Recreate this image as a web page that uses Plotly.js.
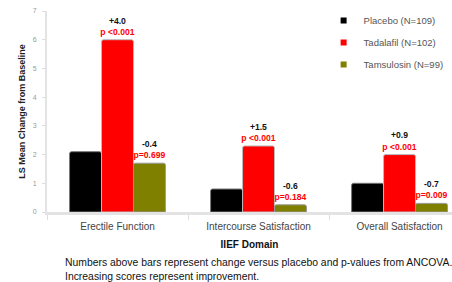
<!DOCTYPE html>
<html>
<head>
<meta charset="utf-8">
<script src="https://cdn.plot.ly/plotly-3.0.1.min.js"></script>
<style>
html,body{margin:0;padding:0;background:#fff;}
#chart{width:452px;height:282px;}
</style>
</head>
<body>
<div id="chart"></div>
<script>
// ---- data ----
const categories = ["Erectile Function", "Intercourse Satisfaction", "Overall Satisfaction"];
const seriesNames = ["Placebo (N=109)", "Tadalafil (N=102)", "Tamsulosin (N=99)"];
const placebo = [2.1, 0.8, 1.0];
const tadalafil = [6.0, 2.3, 2.0];
const tamsulosin = [1.7, 0.25, 0.3];
const tadalafilDiff = ["+4.0", "+1.5", "+0.9"];
const tadalafilP = ["p <0.001", "p <0.001", "p <0.001"];
const tamsulosinDiff = ["-0.4", "-0.6", "-0.7"];
const tamsulosinP = ["p=0.699", "p=0.184", "p=0.009"];
const yTicks = [0, 1, 2, 3, 4, 5, 6, 7];

const colors = ["#000000", "#ff0000", "#808000"];
const edgeColors = ["#777", "#bbb", "#999"];

function labels(diff, p) {
  return diff.map((d, i) => "<b>" + d + "</b><br><b><span style='color:#ff0000'>" + p[i] + "</span></b>");
}

const common = {
  type: "bar",
  x: categories,
  cliponaxis: false,
  constraintext: "none",
  textposition: "outside",
  outsidetextfont: {family: "Liberation Sans, Arial, sans-serif", size: 8.6, color: "#111"},
  hoverinfo: "skip",
  showlegend: false
};

const seriesValues = [placebo, tadalafil, tamsulosin];
const seriesText = [null, labels(tadalafilDiff, tadalafilP), labels(tamsulosinDiff, tamsulosinP)];

const traces = [];
seriesValues.forEach((vals, i) => {
  const t = Object.assign({}, common, {
    name: seriesNames[i], y: vals, legendgroup: "g" + i,
    marker: {color: colors[i], line: {color: edgeColors[i], width: 1}, cornerradius: 2}
  });
  if (seriesText[i]) { t.text = seriesText[i]; t.texttemplate = "%{text}"; }
  traces.push(t);
});
// legend entries with small square keys
seriesNames.forEach((n, i) => {
  traces.push({
    type: "scatter", mode: "markers", x: [null], y: [null],
    name: n, legendgroup: "g" + i, showlegend: true, hoverinfo: "skip",
    marker: {symbol: "square", size: 6, color: colors[i]}
  });
});

const layout = {
  width: 452, height: 282,
  margin: {l: 47, r: 0, t: 11, b: 70, pad: 0},
  paper_bgcolor: "#fff", plot_bgcolor: "#fff",
  font: {family: "Liberation Sans, Arial, sans-serif", color: "#333"},
  barmode: "group",
  bargap: 0.32,
  bargroupgap: 0,
  showlegend: true,
  legend: {
    x: 0.683, y: 1.025, xanchor: "left", yanchor: "top",
    bgcolor: "rgba(0,0,0,0)",
    font: {size: 9.5, color: "#555"},
    itemwidth: 30,
    tracegroupgap: 3
  },
  xaxis: {
    type: "category",
    range: [-0.5, 2.372],
    showline: true, linecolor: "#e3e3e3", linewidth: 3,
    ticks: "outside", tickson: "boundaries", ticklen: 5, tickcolor: "#ddd",
    ticklabelstandoff: 3,
    tickfont: {size: 10, color: "#444"},
    showgrid: false, zeroline: false,
    title: {text: "<b>IIEF Domain</b>", font: {size: 10, color: "#111"}, standoff: 10}
  },
  yaxis: {
    range: [0, 7],
    tickvals: yTicks,
    showline: true, linecolor: "#e3e3e3", linewidth: 2,
    ticks: "outside", ticklen: 3, tickcolor: "#ddd",
    ticklabelstandoff: 4,
    tickfont: {size: 7, color: "#999"},
    showgrid: false, zeroline: false,
    title: {text: "<b>LS Mean Change from Baseline</b>", font: {size: 9, color: "#222"}, standoff: 6}
  },
  annotations: [
    {
      xref: "paper", yref: "paper", x: 0.0395, y: -0.215,
      xanchor: "left", yanchor: "top", align: "left", showarrow: false,
      text: "Numbers above bars represent change versus placebo and p-values from ANCOVA.<br>Increasing scores represent improvement.",
      font: {size: 10.4, color: "#111"}
    }
  ]
};

Plotly.newPlot("chart", traces, layout, {displayModeBar: false, staticPlot: true});
</script>
</body>
</html>
